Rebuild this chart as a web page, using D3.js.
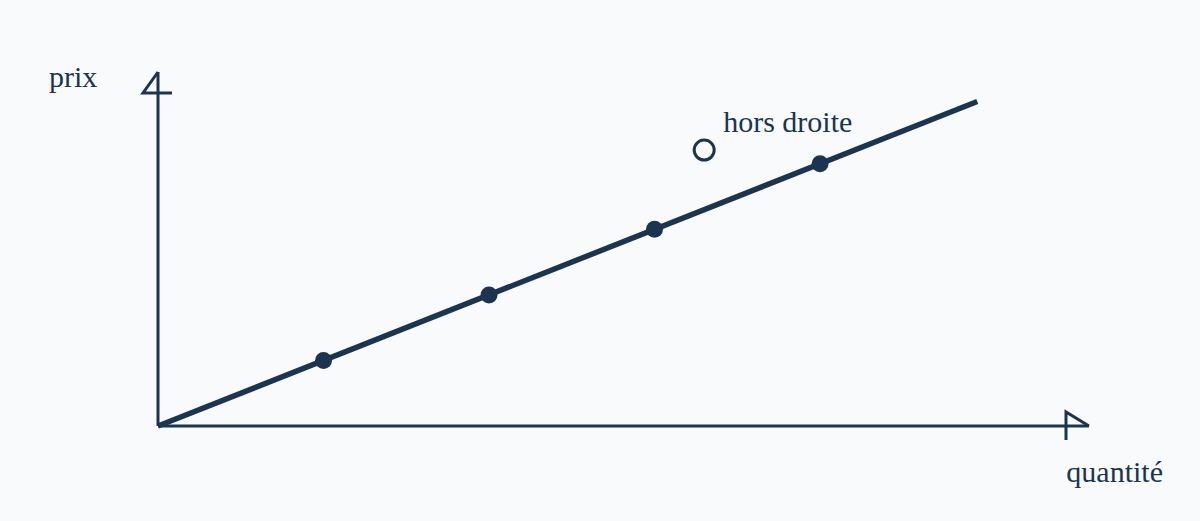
<!DOCTYPE html>
<html>
<head>
<meta charset="utf-8">
<script src="https://cdn.jsdelivr.net/npm/d3@7"></script>
<style>
  html, body { margin: 0; padding: 0; background: #f8fafc; }
  svg { display: block; }
  text { font-family: "Liberation Serif", "Times New Roman", Times, "DejaVu Serif", "Noto Serif", serif; }
</style>
</head>
<body>
<svg id="chart" width="1200" height="521"></svg>
<script>
// Data
const quantities = [1, 2, 3, 4];
const prices = [1, 2, 3, 4];
const lineStart = [0, 0];
const lineEnd = [4.95, 4.95];
const outlier = [3.3, 4.21];
const outlierLabel = "hors droite";
const xAxisLabel = "quantité";
const yAxisLabel = "prix";

const color = "#1b3551";
const svg = d3.select("#chart");

const x = d3.scaleLinear().domain([0, 5.625]).range([158, 1089]);
const y = d3.scaleLinear().domain([0, 5.4]).range([426, 72]);

// Axes
svg.append("line")
  .attr("x1", x(0)).attr("y1", y(0)).attr("x2", x(5.625)).attr("y2", y(0))
  .attr("stroke", color).attr("stroke-width", 3);
svg.append("line")
  .attr("x1", x(0)).attr("y1", y(0)).attr("x2", x(0)).attr("y2", y(5.4))
  .attr("stroke", color).attr("stroke-width", 3);

// Arrow heads (open)
const xt = [x(5.625), y(0)];
svg.append("path")
  .attr("d", `M${xt[0]},${xt[1]} L${xt[0] - 23},${xt[1] - 14} L${xt[0] - 23},${xt[1] + 14}`)
  .attr("fill", "none").attr("stroke", color).attr("stroke-width", 3)
  .attr("stroke-linejoin", "miter");
const yt = [x(0), y(5.4)];
svg.append("path")
  .attr("d", `M${yt[0]},${yt[1]} L${yt[0] - 15},${yt[1] + 21} L${yt[0] + 14},${yt[1] + 21}`)
  .attr("fill", "none").attr("stroke", color).attr("stroke-width", 3)
  .attr("stroke-linejoin", "miter");

// Regression line
svg.append("line")
  .attr("x1", x(lineStart[0])).attr("y1", y(lineStart[1]))
  .attr("x2", x(lineEnd[0])).attr("y2", y(lineEnd[1]))
  .attr("stroke", color).attr("stroke-width", 5.5);

// Points on line
svg.selectAll("circle.pt").data(quantities).enter().append("circle")
  .attr("class", "pt")
  .attr("cx", d => x(d))
  .attr("cy", (d, i) => y(prices[i]))
  .attr("r", 8.5)
  .attr("fill", color);

// Outlier
svg.append("circle")
  .attr("cx", x(outlier[0])).attr("cy", y(outlier[1]))
  .attr("r", 10)
  .attr("fill", "none").attr("stroke", color).attr("stroke-width", 3);

svg.append("text")
  .attr("x", x(outlier[0]) + 19).attr("y", 132)
  .attr("font-size", 30)
  .attr("fill", color).text(outlierLabel);
svg.append("text")
  .attr("x", 49).attr("y", 87)
  .attr("font-size", 30)
  .attr("fill", color).text(yAxisLabel);
svg.append("text")
  .attr("x", 1163).attr("y", 482)
  .attr("text-anchor", "end")
  .attr("font-size", 30)
  .attr("fill", color).text(xAxisLabel);
</script>
</body>
</html>
